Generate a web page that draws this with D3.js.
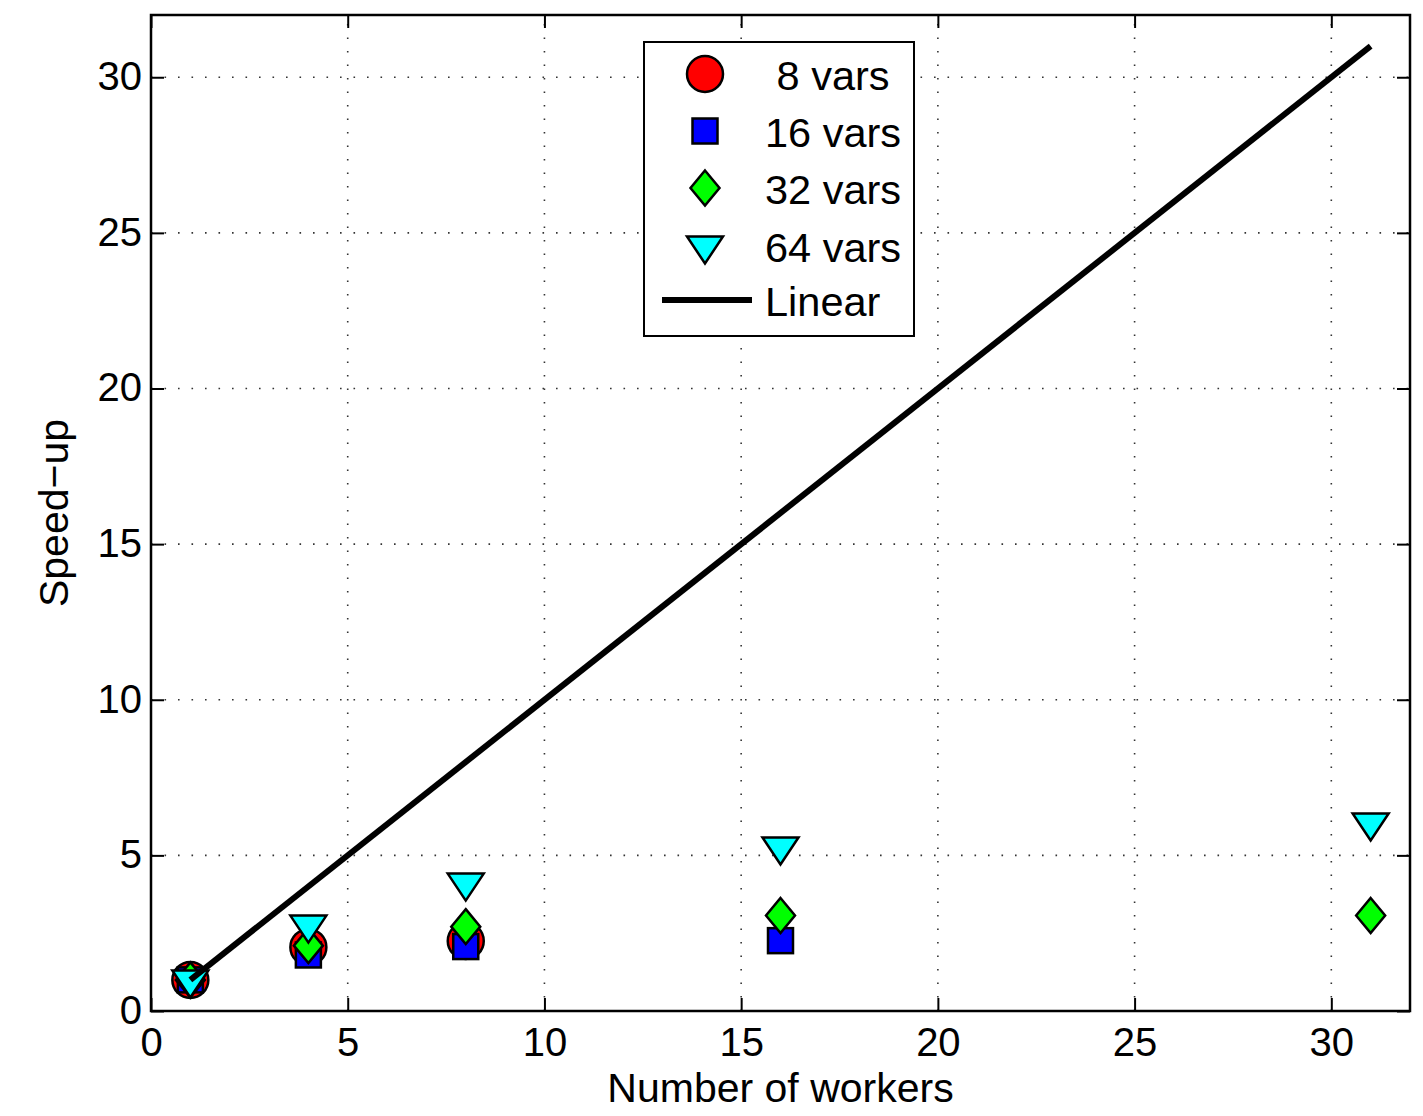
<!DOCTYPE html>
<html>
<head>
<meta charset="utf-8">
<script src="https://cdn.jsdelivr.net/npm/d3@7/dist/d3.min.js"></script>
<style>
  html, body { margin: 0; padding: 0; background: #fff; }
  svg { display: block; }
  text { font-family: "Liberation Sans", Arial, Helvetica, sans-serif; fill: #000; }
</style>
</head>
<body>
<svg id="chart" width="1423" height="1116"></svg>
<script>
// ---- data ----
const workers = [1, 4, 8, 16, 31];
const vars8  = [1, 2.05, 2.25];
const vars16 = [1, 1.8, 2.07, 2.26];
const vars32 = [1, 2.1, 2.71, 3.07, 3.07];
const vars64 = [1, 2.76, 4.11, 5.27, 6.04];
const linearX = [1, 31];
const linearY = [1, 31];
const xTicks = [0, 5, 10, 15, 20, 25, 30];
const yTicks = [0, 5, 10, 15, 20, 25, 30];
const seriesNames = [" 8 vars", "16 vars", "32 vars", "64 vars", "Linear"];

// ---- layout ----
const svg = d3.select("#chart");
const L = 151, R = 1410, T = 15, B = 1011;
const x = d3.scaleLinear().domain([0, 32]).range([L, R]);
const y = d3.scaleLinear().domain([0, 32]).range([B, T]);

// grid
const grid = svg.append("g");
grid.selectAll(".gx").data(xTicks.filter(d => d > 0)).join("line")
  .attr("x1", d => x(d)).attr("x2", d => x(d)).attr("y1", B).attr("y2", T)
  .attr("stroke", "#333").attr("stroke-width", 1.6).attr("stroke-dasharray", "1.6,11.9");
grid.selectAll(".gy").data(yTicks.filter(d => d > 0)).join("line")
  .attr("x1", L).attr("x2", R).attr("y1", d => y(d)).attr("y2", d => y(d))
  .attr("stroke", "#333").attr("stroke-width", 1.6).attr("stroke-dasharray", "1.6,11.9");

// axes (ticks inward, mirrored)
const tickLen = 13;
const ax = svg.append("g");
ax.append("g").attr("transform", `translate(0,${B})`)
  .call(d3.axisBottom(x).tickValues(xTicks).tickSize(-tickLen).tickPadding(16.5).tickFormat(d3.format("d")))
  .call(g => { g.select(".domain").remove(); g.selectAll("line").attr("stroke-width", 2); g.selectAll("text").attr("font-size", 40).attr("dy", "0.71em"); });
ax.append("g").attr("transform", `translate(0,${T})`)
  .call(d3.axisTop(x).tickValues(xTicks).tickSize(-tickLen).tickFormat(""))
  .call(g => { g.select(".domain").remove(); g.selectAll("line").attr("stroke-width", 2); });
ax.append("g").attr("transform", `translate(${L},0)`)
  .call(d3.axisLeft(y).tickValues(yTicks).tickSize(-tickLen).tickPadding(9).tickFormat(d3.format("d")))
  .call(g => { g.select(".domain").remove(); g.selectAll("line").attr("stroke-width", 2); g.selectAll("text").attr("font-size", 40).attr("dy", "0.31em"); });
ax.append("g").attr("transform", `translate(${R},0)`)
  .call(d3.axisRight(y).tickValues(yTicks).tickSize(-tickLen).tickFormat(""))
  .call(g => { g.select(".domain").remove(); g.selectAll("line").attr("stroke-width", 2); });
ax.selectAll("text").attr("font-family", "Liberation Sans, Arial, sans-serif").attr("fill", "#000");

// box
svg.append("rect").attr("x", L).attr("y", T).attr("width", R - L).attr("height", B - T)
  .attr("fill", "none").attr("stroke", "#000").attr("stroke-width", 2.5);

// markers
const sw = 2.5;
function circle(g) { g.append("circle").attr("r", 18).attr("fill", "#ff0000").attr("stroke", "#000").attr("stroke-width", sw); }
function square(g) { g.append("rect").attr("x", -12.5).attr("y", -12.5).attr("width", 25).attr("height", 25).attr("fill", "#0000ff").attr("stroke", "#000").attr("stroke-width", sw); }
function diamond(g) { g.append("path").attr("d", "M0,-17.5L14.5,0L0,17.5L-14.5,0Z").attr("fill", "#00ff00").attr("stroke", "#000").attr("stroke-width", sw); }
function triangle(g) { g.append("path").attr("d", "M-18,-9.5L18,-9.5L0,17.5Z").attr("fill", "#00ffff").attr("stroke", "#000").attr("stroke-width", sw).attr("stroke-linejoin", "miter"); }

const series = [
  { vals: vars8, draw: circle },
  { vals: vars16, draw: square },
  { vals: vars32, draw: diamond },
  { vals: vars64, draw: triangle }
];
series.forEach(s => {
  const g = svg.append("g");
  g.selectAll("g").data(s.vals.map((v, i) => [workers[i], v])).join("g")
    .attr("transform", d => `translate(${x(d[0])},${y(d[1])})`)
    .each(function () { s.draw(d3.select(this)); });
});

// linear line
svg.append("path")
  .datum(linearX.map((v, i) => [v, linearY[i]]))
  .attr("d", d3.line().x(d => x(d[0])).y(d => y(d[1])))
  .attr("fill", "none").attr("stroke", "#000").attr("stroke-width", 6);

// axis labels
svg.append("text").attr("x", (L + R) / 2).attr("y", 1102).attr("text-anchor", "middle")
  .attr("font-size", 41).text("Number of workers");
svg.append("text").attr("transform", `translate(68,${(T + B) / 2}) rotate(-90)`).attr("text-anchor", "middle")
  .attr("font-size", 41).text("Speed\u2212up");

// legend
const lg = svg.append("g");
lg.append("rect").attr("x", 644).attr("y", 42).attr("width", 270).attr("height", 294)
  .attr("fill", "#fff").attr("stroke", "#000").attr("stroke-width", 2);
const rowY = [74, 131, 188, 246, 300];
const drawers = [circle, square, diamond, triangle];
seriesNames.forEach((name, i) => {
  const g = lg.append("g").attr("transform", `translate(705,${rowY[i]})`);
  if (i < 4) drawers[i](g);
  else g.append("line").attr("x1", -43).attr("x2", 47).attr("y1", 0).attr("y2", 0).attr("stroke", "#000").attr("stroke-width", 6);
  lg.append("text").attr("x", 765).attr("y", rowY[i] + 16).attr("font-size", 41.5)
    .style("white-space", "pre").text(name);
});
</script>
</body>
</html>
